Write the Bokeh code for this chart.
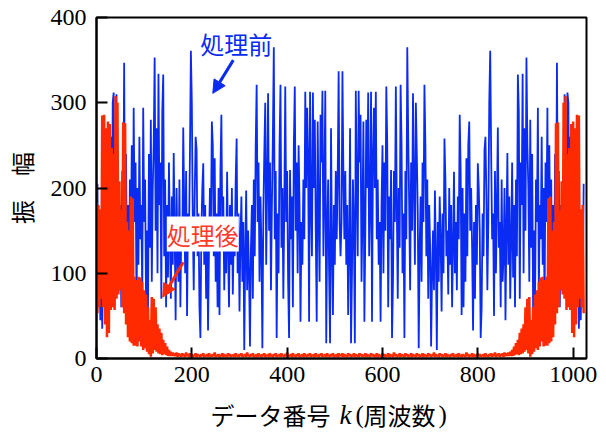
from bokeh.plotting import figure
from bokeh.layouts import column
from bokeh.models import Label, Arrow, NormalHead, Range1d, FixedTicker
from bokeh.embed import file_html
from bokeh.resources import INLINE

# data number k (frequency index), every second bin
k_index = list(range(0, 1024, 2))

# amplitude before processing (処理前)
amp_before = [
    180, 205, 60, 140, 45, 120, 35, 150, 95, 210, 60, 170, 40, 230, 110, 260,
    90, 300, 312, 150, 250, 310, 130, 200, 80, 180, 60, 220, 150, 347, 120, 240,
    70, 180, 55, 210, 130, 250, 90, 294, 160, 230, 60, 200, 110, 260, 140, 180,
    75, 294, 160, 210, 60, 150, 55, 240, 130, 280, 90, 200, 250, 353, 150, 270,
    100, 334, 180, 230, 70, 290, 333, 120, 210, 60, 180, 95, 230, 140, 70, 190,
    110, 241, 150, 45, 200, 120, 90, 210, 60, 160, 130, 271, 180, 100, 220, 50,
    170, 140, 240, 361, 300, 160, 80, 190, 260, 245, 120, 170, 60, 24, 150, 200,
    229, 110, 180, 70, 160, 33, 130, 200, 150, 278, 250, 120, 235, 90, 170, 60,
    200, 51, 220, 286, 140, 190, 80, 160, 100, 219, 130, 60, 180, 110, 200, 75,
    150, 120, 209, 258, 100, 170, 55, 140, 190, 90, 160, 10, 120, 197, 80, 150,
    100, 14, 130, 180, 70, 210, 120, 250, 321, 160, 230, 90, 190, 130, 12, 170,
    240, 300, 110, 200, 311, 150, 230, 80, 180, 260, 365, 140, 220, 24, 170, 100,
    250, 321, 130, 200, 70, 180, 319, 160, 220, 90, 24, 221, 140, 190, 60, 250,
    319, 150, 230, 100, 250, 180, 43, 160, 110, 210, 140, 313, 200, 294, 236, 43,
    313, 180, 120, 312, 200, 280, 150, 43, 278, 170, 90, 286, 230, 314, 120, 200,
    314, 18, 150, 210, 100, 18, 270, 130, 51, 180, 110, 220, 140, 215, 337, 160,
    120,
    160, 337, 215, 140, 220, 110, 180, 51, 130, 270, 18, 100, 210, 150, 18, 314,
    200, 120, 314, 230, 286, 90, 170, 278, 43, 150, 280, 200, 312, 120, 180, 313,
    43, 236, 294, 200, 313, 140, 210, 110, 160, 43, 180, 250, 100, 230, 150, 319,
    250, 60, 190, 140, 221, 24, 90, 220, 160, 319, 180, 70, 200, 130, 321, 250,
    100, 170, 24, 220, 140, 365, 260, 180, 80, 230, 150, 311, 200, 110, 300, 240,
    170, 12, 130, 190, 90, 230, 160, 321, 250, 120, 210, 70, 180, 130, 14, 100,
    150, 80, 197, 120, 10, 160, 90, 190, 140, 55, 170, 100, 258, 209, 120, 150,
    75, 200, 110, 180, 60, 130, 219, 100, 160, 80, 190, 140, 286, 220, 51, 200,
    60, 170, 90, 235, 120, 250, 278, 150, 200, 130, 33, 160, 70, 180, 110, 229,
    200, 150, 24, 60, 170, 120, 245, 260, 190, 80, 160, 300, 361, 240, 140, 170,
    50, 220, 100, 180, 271, 130, 160, 60, 210, 90, 120, 200, 45, 150, 241, 110,
    190, 70, 140, 230, 95, 180, 60, 210, 120, 333, 290, 70, 230, 180, 334, 100,
    270, 150, 353, 250, 200, 90, 280, 130, 240, 55, 150, 60, 210, 160, 294, 75,
    180, 140, 260, 110, 200, 60, 230, 160, 294, 90, 250, 130, 210, 55, 180, 70,
    240, 120, 347, 150, 220, 60, 180, 80, 200, 130, 310, 250, 150, 312, 300, 90,
    260, 110, 230, 40, 170, 60, 210, 95, 150, 35, 120, 45, 140, 60, 205,
]

# amplitude after processing (処理後)
amp_after = [
    184, 53, 180, 60, 175, 70, 285, 60, 286, 40, 270, 25, 278, 30, 275, 57,
    247, 60, 240, 57, 308, 70, 300, 75, 208, 80, 174, 60, 277, 53, 276, 40,
    160, 25, 150, 20, 190, 18, 188, 15, 96, 15, 92, 14, 96, 20, 95, 14,
    90, 10, 80, 12, 75, 8, 60, 5, 45, 2, 72, 6, 70, 10, 60, 8,
    40, 6, 35, 5, 30, 4, 22, 5, 18, 4, 14, 3, 10, 3, 8, 3,
    7, 3, 6, 3, 7, 2, 6, 3, 5, 2, 6, 3, 5, 2, 7, 3,
    5, 2, 6, 3, 5, 2, 4, 3, 6, 2, 5, 3, 4, 2, 5, 3,
    6, 2, 4, 3, 5, 2, 6, 3, 4, 2, 5, 3, 7, 2, 4, 3,
    5, 2, 4, 3, 6, 2, 5, 3, 4, 2, 6, 3, 5, 2, 4, 3,
    5, 2, 6, 3, 4, 2, 5, 3, 6, 2, 4, 3, 5, 2, 7, 3,
    4, 2, 5, 3, 6, 2, 4, 3, 5, 2, 6, 3, 4, 2, 5, 3,
    6, 2, 4, 3, 5, 2, 6, 3, 4, 2, 5, 3, 6, 2, 4, 3,
    5, 2, 6, 3, 4, 2, 5, 3, 7, 2, 4, 3, 5, 2, 6, 3,
    4, 2, 5, 3, 6, 2, 4, 3, 5, 2, 6, 3, 4, 2, 5, 3,
    6, 2, 4, 3, 5, 2, 6, 3, 4, 2, 5, 3, 6, 2, 4, 3,
    5, 2, 6, 3, 4, 2, 5, 3, 6, 2, 4, 3, 5, 2, 6, 3,
    4,
    3, 6, 2, 5, 3, 4, 2, 6, 3, 5, 2, 4, 3, 6, 2, 5,
    3, 4, 2, 6, 3, 5, 2, 4, 3, 6, 2, 5, 3, 4, 2, 6,
    3, 5, 2, 4, 3, 6, 2, 5, 3, 4, 2, 6, 3, 5, 2, 4,
    3, 6, 2, 5, 3, 4, 2, 7, 3, 5, 2, 4, 3, 6, 2, 5,
    3, 4, 2, 6, 3, 5, 2, 4, 3, 6, 2, 5, 3, 4, 2, 6,
    3, 5, 2, 4, 3, 6, 2, 5, 3, 4, 2, 6, 3, 5, 2, 4,
    3, 7, 2, 5, 3, 4, 2, 6, 3, 5, 2, 4, 3, 6, 2, 5,
    3, 4, 2, 5, 3, 6, 2, 4, 3, 5, 2, 6, 3, 4, 2, 5,
    3, 4, 2, 7, 3, 5, 2, 4, 3, 6, 2, 5, 3, 4, 2, 6,
    3, 5, 2, 4, 3, 5, 2, 6, 3, 4, 2, 5, 3, 6, 2, 5,
    3, 7, 2, 5, 3, 6, 2, 5, 3, 6, 2, 7, 3, 6, 3, 7,
    3, 8, 3, 10, 3, 14, 4, 18, 5, 22, 4, 30, 5, 35, 6, 40,
    8, 60, 10, 70, 6, 72, 2, 45, 5, 60, 8, 75, 12, 80, 10, 90,
    14, 95, 20, 96, 14, 92, 15, 96, 15, 188, 18, 190, 20, 150, 25, 160,
    40, 276, 53, 277, 60, 174, 80, 208, 75, 300, 70, 308, 57, 240, 60, 247,
    57, 275, 30, 278, 25, 270, 40, 286, 60, 285, 70, 175, 60, 180, 53,
]

x_ticks = [0, 200, 400, 600, 800, 1000]
y_ticks = [0, 100, 200, 300, 400]

BLUE = "#0a2bf2"
RED = "#ff2a00"
JP = "Noto Sans CJK JP"
SERIF = "'Liberation Serif'"

p = figure(width=606, height=396, output_backend="svg", toolbar_location=None,
           x_range=Range1d(0, 1028), y_range=Range1d(0, 400),
           min_border_left=96, min_border_right=20, min_border_top=17, min_border_bottom=38)

p.line(k_index, amp_before, line_color=BLUE, line_width=1.8)
p.line(k_index, amp_after, line_color=RED, line_width=2.5)

p.xgrid.visible = False
p.ygrid.visible = False
p.outline_line_color = "black"
p.outline_line_width = 2
p.background_fill_color = "white"
p.border_fill_color = "white"

for ax, ticks in ((p.xaxis[0], x_ticks), (p.yaxis[0], y_ticks)):
    ax.ticker = FixedTicker(ticks=ticks)
    ax.axis_line_width = 2
    ax.axis_line_color = "black"
    ax.major_tick_in = 11
    ax.major_tick_out = 0
    ax.major_tick_line_width = 2
    ax.major_tick_line_color = "black"
    ax.minor_tick_line_color = None
    ax.major_label_text_font = SERIF
    ax.major_label_text_font_size = "24px"
    ax.major_label_text_color = "black"

p.xaxis.major_label_standoff = 8
p.yaxis.major_label_standoff = 10

p.yaxis.axis_label = "振　幅"
p.yaxis.axis_label_text_font = JP
p.yaxis.axis_label_text_font_style = "normal"
p.yaxis.axis_label_text_font_size = "24px"
p.yaxis.axis_label_text_color = "black"
p.yaxis.axis_label_standoff = 9

# annotations
p.add_layout(Label(x=293, y=369, text="処理前", text_font=JP, text_font_size="24px",
                   text_color=BLUE, text_align="center", text_baseline="middle"))
p.add_layout(Arrow(end=NormalHead(size=13, fill_color=BLUE, line_color=BLUE, line_width=1),
                   x_start=287, y_start=350, x_end=244, y_end=311,
                   line_color=BLUE, line_width=3))

p.add_layout(Label(x=223, y=146, text="処理後", text_font=JP, text_font_size="24px",
                   text_color="#ff3a2a", text_align="center", text_baseline="middle",
                   background_fill_color="white"))
p.add_layout(Arrow(end=NormalHead(size=13, fill_color=RED, line_color=RED, line_width=1),
                   x_start=182, y_start=113, x_end=139, y_end=72,
                   line_color=RED, line_width=3))

# x axis title strip (separate pieces so that k can be italic), canvas pixels
t = figure(width=606, height=36, output_backend="svg", toolbar_location=None,
           x_range=Range1d(0, 1), y_range=Range1d(0, 1),
           x_axis_type=None, y_axis_type=None,
           min_border_left=0, min_border_right=0, min_border_top=0, min_border_bottom=0)
t.outline_line_color = None
t.xgrid.visible = False
t.ygrid.visible = False
t.background_fill_color = "white"
t.border_fill_color = "white"

title_y = 18
for txt, xpos, font, style, size in (
    ("データ番号", 210, JP, "normal", "24px"),
    ("k", 339, SERIF, "italic", "27px"),
    ("(", 355, SERIF, "normal", "25px"),
    ("周波数", 363, JP, "normal", "24px"),
    (")", 438, SERIF, "normal", "25px"),
):
    t.add_layout(Label(x=xpos, y=title_y, x_units="canvas", y_units="canvas", text=txt,
                       text_font=font, text_font_style=style, text_font_size=size,
                       text_color="black", text_align="left", text_baseline="middle"))

layout = column(p, t, spacing=0)
open("out.html", "w").write(file_html(layout, INLINE))
